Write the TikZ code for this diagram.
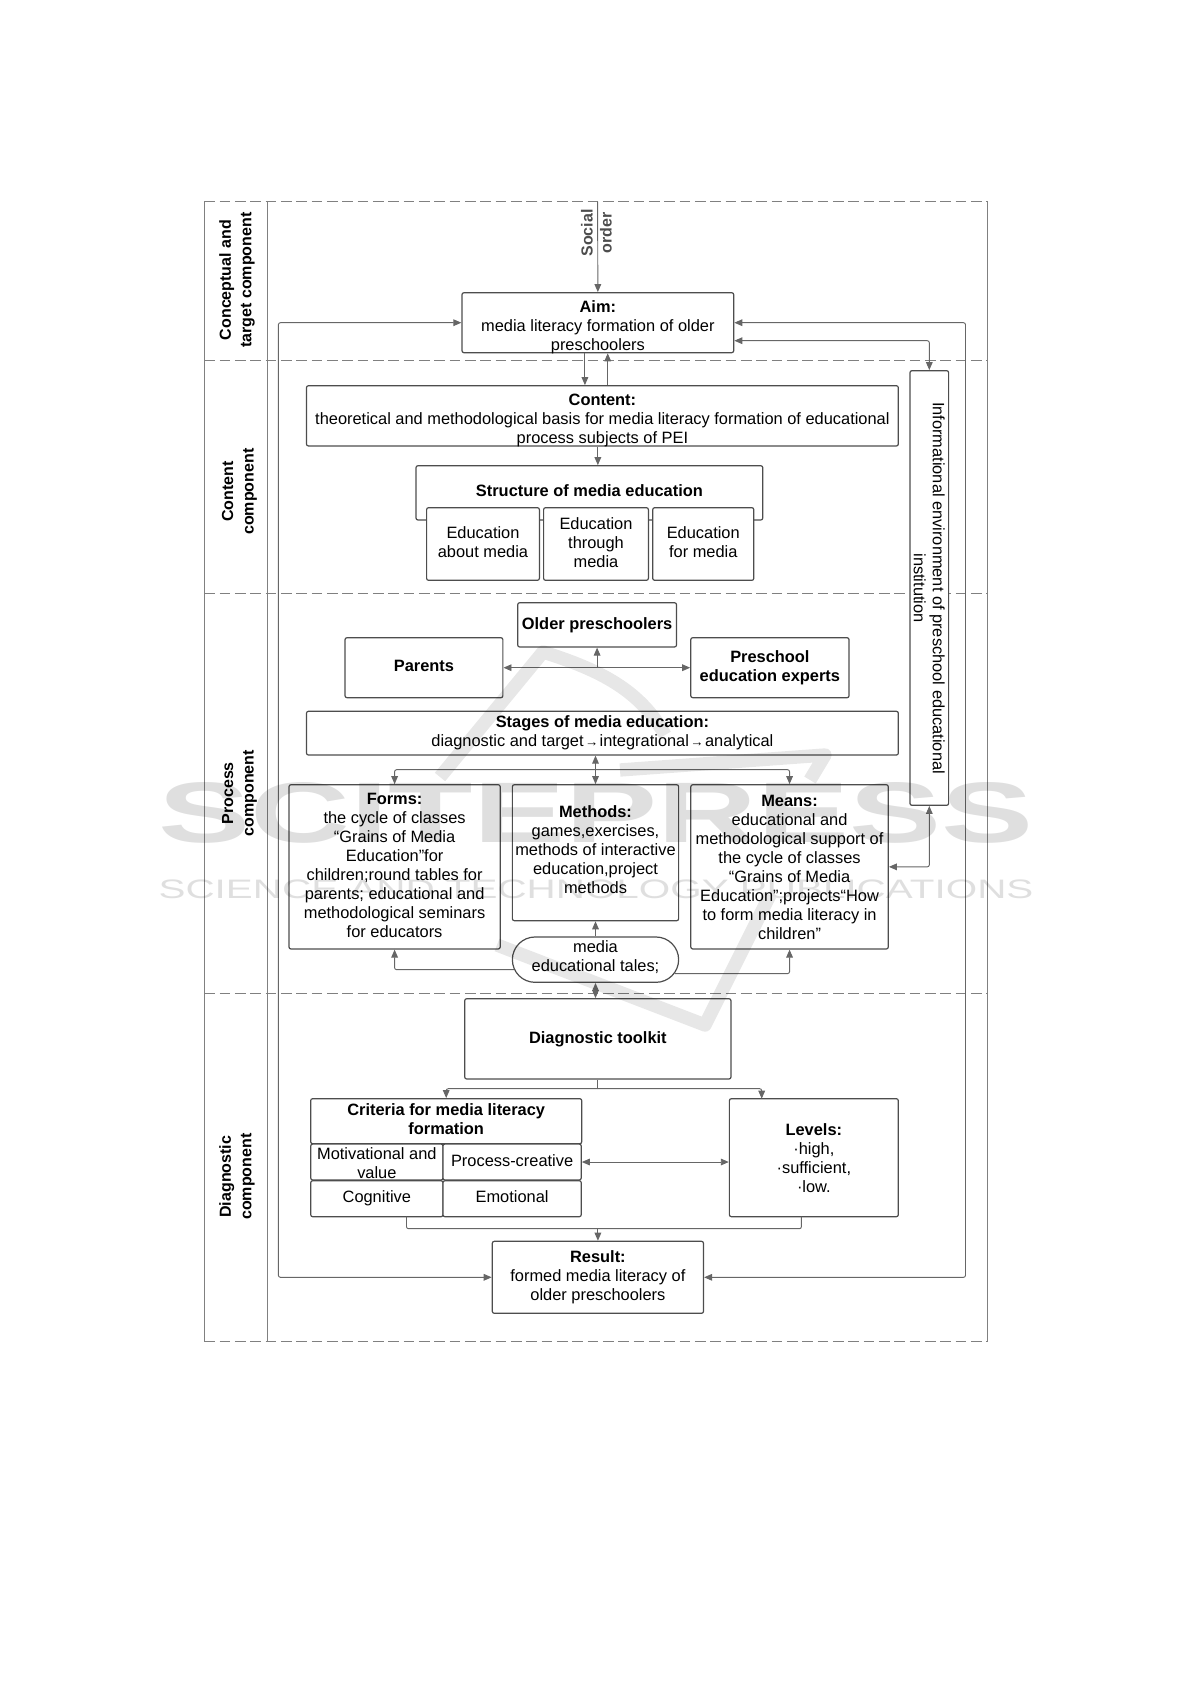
\documentclass[tikz,border=0pt]{standalone}
\usepackage{fontspec}
\setmainfont{Liberation Sans}
\usetikzlibrary{arrows.meta,shapes.misc,calc,positioning}
\definecolor{boxline}{HTML}{4D4D4D}
\definecolor{connline}{HTML}{666666}
\definecolor{frameline}{HTML}{808080}
\definecolor{markgray}{HTML}{B0B0B0}
\newcommand{\stagearrow}{\kern1pt{\fontsize{10}{10}\selectfont→}\kern1pt}
\tikzset{
  >={Triangle[length=6pt,width=5pt]},
  comp/.style={draw=boxline,line width=.9pt,rounded corners=1.5pt,fill=white,align=center,inner sep=0pt,font=\fontsize{12.3}{14.25}\selectfont},
  pill/.style={comp,rounded rectangle,rounded corners=0pt},
  lastbase/.style={text height=#1,text depth=0pt},
  band/.style={rotate=90,align=center,font=\fontsize{12}{15.4}\selectfont\bfseries},
  conn/.style={draw=connline,line width=.7pt,rounded corners=1.5pt},
  frameedge/.style={draw=frameline,line width=.7pt},
  sectline/.style={frameedge,dash pattern=on 8pt off 3.5pt},
  wmtext/.style={text=markgray,opacity=.4,inner sep=0pt},
  wmstroke/.style={draw=markgray,opacity=.3,line width=10pt}
}
\begin{document}
\begin{tikzpicture}[x=.75pt,y=-.75pt]
  \useasboundingbox (0,0) rectangle (1191,1684);
  \draw[frameedge] (204.3,201.7) -- (204.3,1341.7);
  \draw[frameedge] (987.8,201.7) -- (987.8,1341.7);
  \draw[frameedge] (267.3,201.7) -- (267.3,1341.7);
  \draw[sectline] (204.3,201.7) -- (987.8,201.7);
  \draw[sectline] (204.3,360.3) -- (987.8,360.3);
  \draw[sectline] (204.3,593.7) -- (987.8,593.7);
  \draw[sectline] (204.3,993.3) -- (987.8,993.3);
  \draw[sectline] (204.3,1341.7) -- (987.8,1341.7);

  \node[band] (bandaim) at (237,280) {Conceptual and\\target component};
  \node[band] (bandcontent) at (239.5,491.7) {Content\\component};
  \node[band] (bandprocess) at (239.5,793.3) {Process\\component};
  \node[band] (banddiag) at (237,1176.7) {Diagnostic\\component};

  \node[comp,lastbase=41pt,minimum width=203.8pt,minimum height=45pt] (aim) at (597.85,322.7) {\textbf{Aim:}\\media literacy formation of older\\preschoolers};
  \node[comp,lastbase=41.2pt,minimum width=443.9pt,minimum height=45.2pt] (content) at (602.4,415.85) {\textbf{Content:}\\theoretical and methodological basis for media literacy formation of educational\\process subjects of PEI};
  \node[comp,lastbase=5.3pt,minimum width=260.1pt,minimum height=40.7pt] (structure) at (589.4,492.85) {\textbf{Structure of media education}};
  \node[comp,lastbase=20pt,minimum width=84.6pt,minimum height=54.5pt] (edabout) at (483,544) {Education\\about media};
  \node[comp,lastbase=35pt,minimum width=78.6pt,minimum height=54.5pt] (edthrough) at (596,544) {Education\\through\\media};
  \node[comp,lastbase=20pt,minimum width=75.8pt,minimum height=54.5pt] (edfor) at (703.25,544) {Education\\for media};
  \node[comp,rotate=-90,minimum width=326pt,minimum height=29pt] (info) at (929.3,588) {Informational environment of preschool educational\\institution};

  \node[comp,minimum width=119.1pt,minimum height=33.2pt] (older) at (597.1,624.85) {\textbf{Older preschoolers}};
  \node[comp,lastbase=5.4pt,minimum width=118.4pt,minimum height=45pt] (parents) at (423.95,667.7) {\textbf{Parents}};
  \node[comp,minimum width=118.7pt,minimum height=45pt] (experts) at (769.9,667.7) {\textbf{Preschool}\\\textbf{education experts}};
  \node[comp,minimum width=443.9pt,minimum height=32.8pt] (stages) at (602.4,733.15) {\textbf{Stages of media education:}\\diagnostic and target\stagearrow integrational\stagearrow analytical};
  \node[comp,lastbase=105.5pt,minimum width=158.4pt,minimum height=123.2pt] (forms) at (394.6,866.85) {\textbf{Forms:}\\the cycle of classes\\“Grains of Media\\Education”for\\children;round tables for\\parents; educational and\\methodological seminars\\for educators};
  \node[comp,lastbase=60.8pt,minimum width=124.7pt,minimum height=102pt] (methods) at (595.5,852.7) {\textbf{Methods:}\\games,exercises,\\methods of interactive\\education,project\\methods};
  \node[comp,lastbase=108.3pt,minimum width=148.1pt,minimum height=123.2pt] (means) at (789.55,866.85) {\textbf{Means:}\\educational and\\methodological support of\\the cycle of classes\\“Grains of Media\\Education”;projects“How\\to form media literacy in\\children”};
  \node[pill,lastbase=18.4pt,minimum width=124.7pt,minimum height=34pt] (tales) at (595.5,959.65) {media\\educational tales;};

  \node[comp,minimum width=199.7pt,minimum height=60.2pt] (toolkit) at (597.85,1038.85) {\textbf{Diagnostic toolkit}};
  \node[comp,lastbase=20pt,minimum width=203.3pt,minimum height=33.8pt] (criteria) at (446.2,1121.2) {\textbf{Criteria for media literacy}\\\textbf{formation}};
  \node[comp,lastbase=24.6pt,minimum width=99.2pt,minimum height=27pt] (motivational) at (376.85,1162) {Motivational and\\value};
  \node[comp,lastbase=6.5pt,minimum width=103.7pt,minimum height=27pt] (creative) at (512.1,1162) {Process-creative};
  \node[comp,lastbase=5.6pt,minimum width=99.2pt,minimum height=27pt] (cognitive) at (376.85,1198.7) {Cognitive};
  \node[comp,lastbase=5.6pt,minimum width=103.7pt,minimum height=27pt] (emotional) at (512.1,1198.7) {Emotional};
  \node[comp,minimum width=126.7pt,minimum height=88.5pt] (levels) at (813.85,1157.7) {\textbf{Levels:}\\·high,\\·sufficient,\\·low.};
  \node[comp,minimum width=158.4pt,minimum height=54pt] (result) at (597.9,1277.3) {\textbf{Result:}\\formed media literacy of\\older preschoolers};

  \coordinate (socialtop) at (597.6,201.7);
  \coordinate (railleft) at (278.4,800);
  \coordinate (railright) at (965.5,800);
  \coordinate (olderfork) at (older.south |- parents.east);
  \coordinate (stagesfork) at (methods.north |- 0,769.7);
  \coordinate (toolfork) at (toolkit.south |- 0,1088.7);
  \coordinate (levelstop) at (761.7,1098.7);
  \coordinate (critout) at (406.5,1216.7);
  \coordinate (levout) at (801.4,1216.7);
  \coordinate (resultfork) at (result.north |- 0,1228.7);

  \node[rotate=90,align=center,text=boxline,font=\fontsize{12}{14.25}\selectfont\bfseries] (social) at (596.5,233) {Social\\order};
  \draw[conn,->] (socialtop) -- (aim.north);
  \draw[conn,<->] (aim.west) -| (railleft) |- (result.west);
  \draw[conn,<->] (aim.east) -| (railright) |- (result.east);
  \draw[conn,<->] ([yshift=-13.5pt]aim.east) -| (info.west);
  \draw[conn,<->] (info.east) |- (means.east);
  \draw[conn,->] ([xshift=-9.7pt]aim.south) -- ([xshift=-9.7pt]aim.south |- content.north);
  \draw[conn,->] ([xshift=7.4pt]aim.south |- content.north) -- ([xshift=7.4pt]aim.south);
  \draw[conn,->] (aim.south |- content.south) -- (aim.south |- structure.north);
  \draw[conn,<->] (parents.east) -- (experts.west);
  \draw[conn,->] (olderfork) -- (older.south);
  \draw[conn,<->] (methods.north |- stages.south) -- (methods.north);
  \draw[conn,<->] (forms.north) |- (stagesfork) -| (means.north);
  \draw[conn,->] (tales.north) -- (methods.south);
  \draw[conn,->] (tales.187.5) -| (forms.south);
  \draw[conn,->] (tales.350) -| (means.south);
  \draw[conn,<->] (tales.south) -- (tales.south |- toolkit.north);
  \draw[conn] (toolkit.south) -- (toolfork);
  \draw[conn,->] (toolfork) -| (criteria.north);
  \draw[conn,->] (toolfork) -| (levelstop);
  \draw[conn,<->] (creative.east) -- (creative.east -| levels.west);
  \draw[conn] (critout) -- ++(0,12) -| (levout);
  \draw[conn,->] (resultfork) -- (result.north);

  \begin{scope}[blend mode=multiply]
    \node[wmtext] (wmname) at (596,813) {\resizebox{656pt}{45pt}{\bfseries SCITEPRESS}};
    \node[wmtext] (wmsub) at (596,889) {\resizebox{656pt}{14pt}{SCIENCE AND TECHNOLOGY PUBLICATIONS}};
    \draw[wmstroke,line join=round] (440,777) -- (543,652) .. controls (600,670) and (640,690) .. (665,735);
    \draw[wmstroke,line join=round] (620,770) -- (825,755) -- (810,780);
    \draw[wmstroke,line join=round] (497,945) -- (705,1025) -- (770,895);
  \end{scope}
\end{tikzpicture}
\end{document}
